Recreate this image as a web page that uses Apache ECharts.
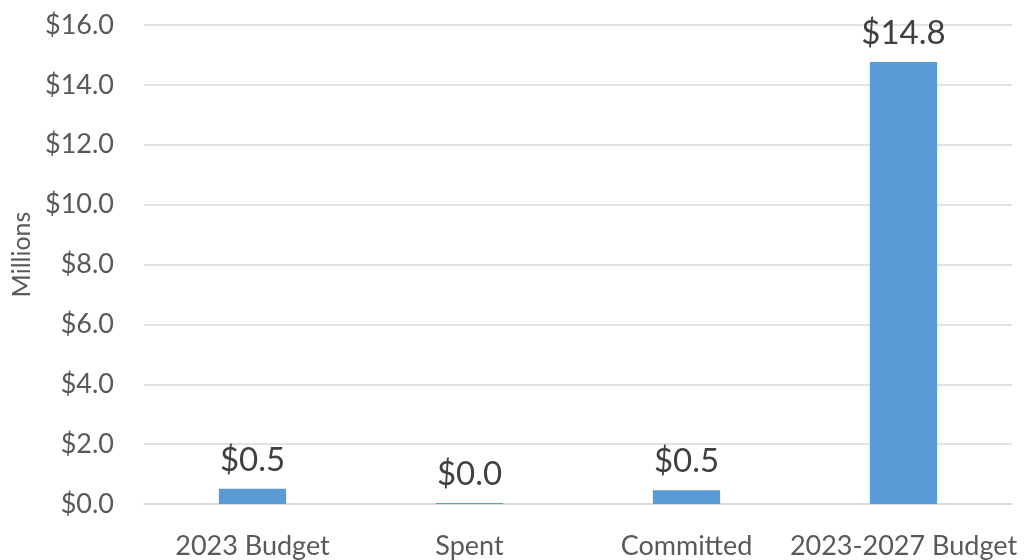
<!DOCTYPE html>
<html lang="en">
<head>
  <meta charset="UTF-8">
  <title>Budget</title>
  <style>
    html, body { margin: 0; padding: 0; background: #fff; }
  </style>
</head>
<body>
  <div id="chart" style="width: 1028px;height: 560px;"></div>
  <script src="https://cdn.jsdelivr.net/npm/echarts@6/dist/echarts.min.js"></script>
  <script>
    var categories = ['2023 Budget', 'Spent', 'Committed', '2023-2027 Budget'];
    var values = [0.51, 0.03, 0.46, 14.76];
    var axisMin = 0;
    var axisMax = 16;
    var axisStep = 2;

    var myChart = echarts.init(document.getElementById('chart'));
    var font = 'Lato, "Open Sans", sans-serif';

    function money(v) {
      return '$' + Number(v).toFixed(1);
    }

    myChart.setOption({
      animation: false,
      textStyle: { fontFamily: font },
      grid: { left: 144, right: 16, top: 25, bottom: 56, outerBoundsMode: 'none', containLabel: false },
      xAxis: {
        type: 'category',
        data: categories,
        axisLine: { lineStyle: { color: '#d9d9d9', width: 1.5 } },
        axisTick: { show: false },
        axisLabel: { color: '#595959', fontSize: 27, margin: 29, fontFamily: font, interval: 0 }
      },
      yAxis: {
        type: 'value',
        min: axisMin,
        max: axisMax,
        interval: axisStep,
        name: 'Millions',
        nameLocation: 'middle',
        nameGap: 106,
        nameTextStyle: { color: '#595959', fontSize: 25, fontFamily: font, padding: [0, 0, 0, 20] },
        axisLine: { show: false },
        axisTick: { show: false },
        splitLine: { lineStyle: { color: '#d9d9d9', width: 1.5 } },
        axisLabel: { color: '#595959', fontSize: 27, margin: 30, fontFamily: font, formatter: money }
      },
      series: [{
        type: 'bar',
        data: values,
        barWidth: '31%',
        itemStyle: { color: '#5b9bd5' },
        label: {
          show: true,
          position: 'top',
          distance: 12,
          color: '#404040',
          fontSize: 33,
          fontFamily: font,
          formatter: function (p) { return money(p.value); }
        }
      }]
    });
  </script>
</body>
</html>
